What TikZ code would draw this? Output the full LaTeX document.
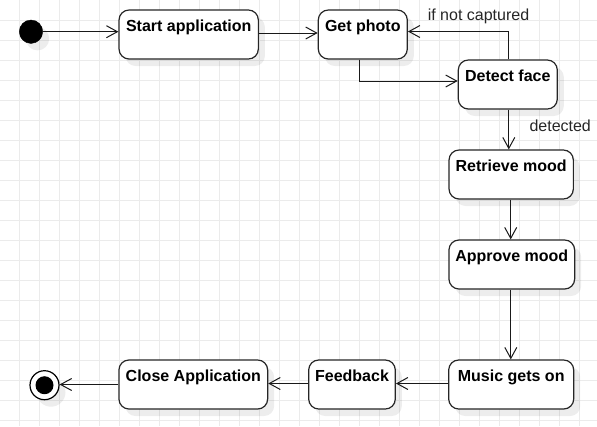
\documentclass[tikz,border=0pt]{standalone}
\usepackage{fontspec}
\setmainfont{Liberation Sans}
\usetikzlibrary{arrows.meta,shadows}
\tikzset{
  gridline/.style={draw=black!8, line width=0.8bp},
  shad/.style={drop shadow={shadow xshift=6.5bp, shadow yshift=-7bp, fill=black, opacity=0.07}},
  stbox/.style={draw=black!85, fill=white, line width=1.2bp, rounded corners=10bp,
    inner xsep=0pt, inner ysep=0pt, minimum height=49bp,
    text height=21bp, text depth=28bp, align=center,
    font=\fontsize{16bp}{19bp}\selectfont\bfseries, shad},
  initst/.style={circle, fill=black, draw=black, minimum size=23.4bp, inner sep=0pt, shad},
  finalst/.style={circle, fill=white, draw=black, line width=1.2bp, minimum size=29bp, inner sep=0pt, shad,
    path picture={\fill[black] (path picture bounding box.center) circle (9bp);}},
  flow/.style={draw=black!90, line width=1bp, -{Straight Barb[length=11bp,width=12bp,line width=1bp]}},
  edgelbl/.style={font=\fontsize{16bp}{19bp}\selectfont, text=black!85, inner sep=0pt},
}
\begin{document}
\begin{tikzpicture}[x=1bp,y=-1bp]
\useasboundingbox (0,0) rectangle (597,426);
\fill[white] (0,0) rectangle (597,426);
% grid
\foreach \gx in {0,...,28} { \draw[gridline] (19.5+20*\gx,0) -- (19.5+20*\gx,426); }
\foreach \gy in {1,...,21} { \draw[gridline] (0,20*\gy) -- (597,20*\gy); }

% nodes
\node[initst] (init) at (31,31.7) {};
\node[stbox, minimum width=139.3bp] (start) at (188.7,34.5) {Start application};
\node[stbox, minimum width=89bp] (gp) at (362.8,34.5) {Get photo};
\node[stbox, minimum width=99bp] (detect) at (507.8,84.5) {Detect face};
\node[stbox, minimum width=124.3bp] (retrieve) at (511.2,174.5) {Retrieve mood};
\node[stbox, minimum width=125.7bp] (approve) at (511.8,264.5) {Approve mood};
\node[stbox, minimum width=125bp] (music) at (511.2,384.5) {Music gets on};
\node[stbox, minimum width=86.6bp] (feedback) at (352,384.5) {Feedback};
\node[stbox, minimum width=148.7bp] (close) at (193.3,384.5) {Close Application};
\node[finalst] (final) at (44.5,385.2) {};

% connectors
\draw[flow] (init) -- (init -| start.west);
\draw[flow] ([yshift=1.5bp]start.east) -- ([yshift=1.5bp]gp.west);
\draw[flow] ([xshift=-3.5bp]gp.south) |- ([yshift=3.5bp]detect.west);
\draw[flow] ([xshift=1bp]detect.north) |- ([yshift=3bp]gp.east)
  node[edgelbl, anchor=base] (lblnot) at (478.5,20.7) {if not captured};
\draw[flow] ([xshift=1bp]detect.south) -- ([xshift=1bp]detect.south |- retrieve.north)
  node[edgelbl, anchor=base west] (lbldet) at (529,131.5) {detected};
\draw[flow] ([xshift=-0.5bp]retrieve.south) -- ([xshift=-0.5bp]retrieve.south |- approve.north);
\draw[flow] ([xshift=-1bp]approve.south) -- ([xshift=-1bp]approve.south |- music.north);
\draw[flow] ([yshift=1bp]music.west) -- ([yshift=1bp]feedback.east);
\draw[flow] ([yshift=1bp]feedback.west) -- ([yshift=1bp]close.east);
\draw[flow] (close.west) -- (final.east |- close.west);
\end{tikzpicture}
\end{document}
